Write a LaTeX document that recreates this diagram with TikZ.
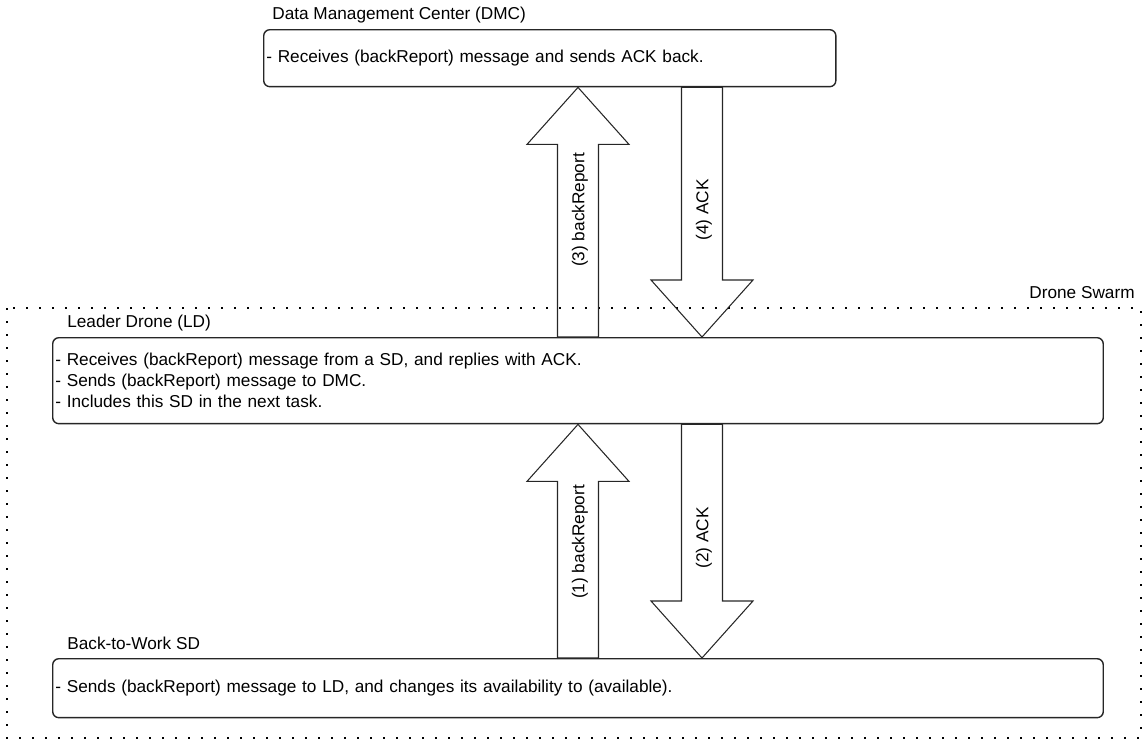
\documentclass[tikz,border=0pt]{standalone}
\usepackage{fontspec}
\setmainfont{Liberation Sans}
\usetikzlibrary{calc,positioning}

% block arrows between boxes: x coordinate, start node, end node
\newcommand{\upblock}[3]{%
  \draw[blk] ($(#2.north -| #1)+(-20.5,0)$) -- ($(#3.south -| #1)+(-20.5,57)$) -- ++(-30.5,0)
    -- (#3.south -| #1) -- ($(#3.south -| #1)+(51,57)$) -- ++(-30.5,0)
    -- ($(#2.north -| #1)+(20.5,0)$) -- cycle;}
\newcommand{\downblock}[3]{%
  \draw[blk] ($(#2.south -| #1)+(-20.5,0)$) -- ($(#3.north -| #1)+(-20.5,-57)$) -- ++(-30.5,0)
    -- (#3.north -| #1) -- ($(#3.north -| #1)+(51,-57)$) -- ++(-30.5,0)
    -- ($(#2.south -| #1)+(20.5,0)$) -- cycle;}

\begin{document}
\begin{tikzpicture}[
    x=0.02cm, y=-0.02cm,
    every node/.style={font=\fontsize{9.8}{11.9}\selectfont},
    box/.style={draw=black!85, line width=0.8pt, rounded corners=3.5pt, align=left,
      anchor=north west, inner xsep=1.5pt, inner ysep=0pt},
    blk/.style={draw=black!85, line width=0.6pt},
    lbl/.style={anchor=west, inner sep=0pt},
    albl/.style={rotate=90, inner sep=0pt},
    swarm/.style={line width=1.2pt, dash pattern=on 1.2pt off 6.2pt},
]
\useasboundingbox (0,0) rectangle (1143,747);

% Drone swarm region
\draw[swarm] (7,308) rectangle (1141,738);
\node[anchor=east, inner sep=0pt] (swarmlbl) at (1135,293) {Drone Swarm};

% Boxes
\node[lbl] (dmclbl) at (272,15) {Data Management Center (DMC)};
\node[box, text width=11.34cm, minimum height=1.14cm] (dmc) at (263,29)
    {- Receives (backReport) message and sends ACK back.};

\node[lbl] (ldlbl) at (67,323) {Leader Drone (LD)};
\node[box, text width=20.91cm, minimum height=1.72cm] (ld) at (52,337)
    {- Receives (backReport) message from a SD, and replies with ACK.\\
     - Sends (backReport) message to DMC.\\
     - Includes this SD in the next task.};

\node[lbl] (sdlbl) at (67,643) {Back-to-Work SD};
\node[box, text width=20.91cm, minimum height=1.18cm] (sd) at (52,658)
    {- Sends (backReport) message to LD, and changes its availability to (available).};

% Arrows
\coordinate (upx) at (578,0);
\coordinate (dnx) at (702,0);
\upblock{upx}{sd}{ld}
\downblock{dnx}{ld}{sd}
\upblock{upx}{ld}{dmc}
\downblock{dnx}{dmc}{ld}

\node[albl] (m1) at (580,542) {(1) backReport};
\node[albl] (m2) at (704,538) {(2) ACK};
\node[albl] (m3) at (580,210) {(3) backReport};
\node[albl] (m4) at (704,210) {(4) ACK};
\end{tikzpicture}
\end{document}
